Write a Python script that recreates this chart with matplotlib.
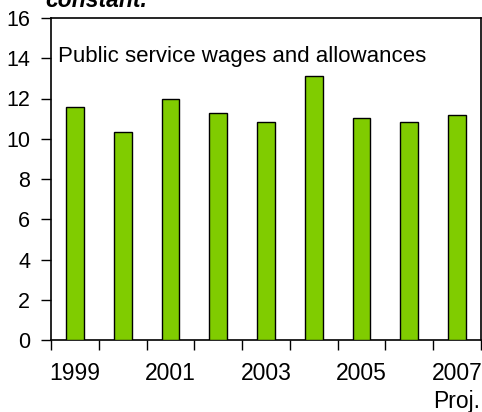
import matplotlib
matplotlib.use('Agg')
import matplotlib.pyplot as plt
from matplotlib.ticker import FixedLocator

plt.rcParams['font.family'] = ['Liberation Sans', 'DejaVu Sans']

# Public service wages and allowances, per cent
years = ['1999', '2000', '2001', '2002', '2003', '2004', '2005', '2006', '2007\nProj.']
values = [11.6, 10.35, 12.0, 11.3, 10.85, 13.1, 11.05, 10.85, 11.2]
yticks = [0, 2, 4, 6, 8, 10, 12, 14, 16]

W, H = 482, 412
fig = plt.figure(figsize=(W / 100, H / 100), dpi=100)
ax = fig.add_axes([51 / W, 1 - 340 / H, 430 / W, 322 / H])

pos = list(range(len(years)))
ax.bar(pos, values, width=0.37, color='#80CC00', edgecolor='black', linewidth=1.0, zorder=3)

ax.set_xlim(-0.5, len(years) - 0.5)
ax.set_ylim(0, 16)
ax.set_yticks(yticks)
ax.tick_params(axis='y', direction='out', length=7, width=1, pad=8, labelsize=15.5)

# labels every other year, tick marks on the category boundaries
ax.set_xticks(pos[::2])
ax.set_xticklabels(years[::2])
ax.xaxis.set_minor_locator(FixedLocator([p - 0.5 for p in range(len(years) + 1)]))
ax.tick_params(axis='x', which='major', length=0, pad=16, labelsize=16.5)
ax.tick_params(axis='x', which='minor', direction='out', length=7, width=1)
for lbl in ax.get_xticklabels():
    lbl.set_linespacing(1.25)

for s in ax.spines.values():
    s.set_linewidth(1.2)

ax.text(0.017, 0.88, 'Public service wages and allowances', transform=ax.transAxes,
        fontsize=16, ha='left', va='center')

fig.text(45 / W, 1 - 7 / H, 'constant.', fontsize=16.5, fontweight='bold',
         fontstyle='italic', ha='left', va='baseline')

fig.savefig('out.png', dpi=100)
